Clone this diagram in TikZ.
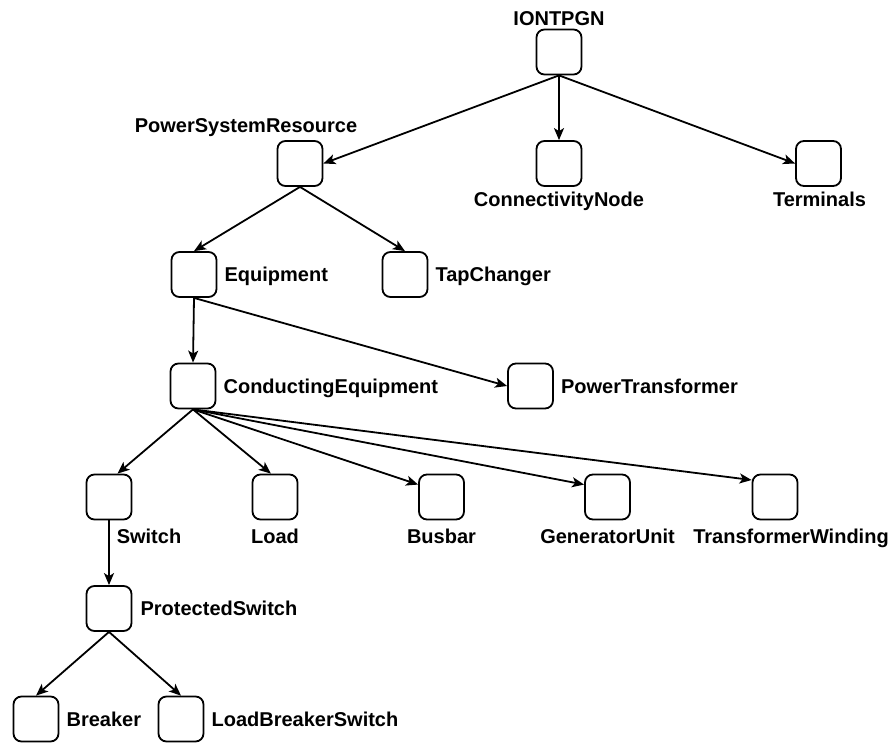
\documentclass[tikz,border=0pt]{standalone}
\usepackage{fontspec}
\setmainfont{Liberation Sans}
\usetikzlibrary{arrows.meta, positioning}

\begin{document}
\begin{tikzpicture}[
    x=1pt, y=-1pt,
    box/.style={draw, rounded corners=8pt, minimum size=45pt, inner sep=0pt, line width=1.8pt},
    lbl/.style={font=\fontsize{20}{24}\selectfont\bfseries, inner sep=0pt, text height=14.5pt, text depth=0pt},
    arrow/.style={-{Stealth[length=12pt, width=10pt, inset=3pt]}, line width=1.8pt}
]
    \useasboundingbox (0,0) rectangle (891,742);

    % Boxes
    \node[box] (iontpgn) at (559,52) {};
    \node[box] (psr) at (300,163.5) {};
    \node[box] (cnode) at (559,163.5) {};
    \node[box] (term) at (818.5,163.5) {};
    \node[box] (equip) at (194,274.5) {};
    \node[box] (tap) at (405,274.5) {};
    \node[box] (condeq) at (193,386) {};
    \node[box] (ptrans) at (530.5,386) {};
    \node[box] (switch) at (109,497) {};
    \node[box] (load) at (275,497) {};
    \node[box] (busbar) at (441.5,497) {};
    \node[box] (genunit) at (607.5,497) {};
    \node[box] (twind) at (775,497) {};
    \node[box] (pswitch) at (109,608.5) {};
    \node[box] (breaker) at (36,719) {};
    \node[box] (lbswitch) at (181,719) {};

    % Labels
    \node[lbl, above=3pt of iontpgn] (iontpgnlbl) {IONTPGN};
    \node[lbl, above=7pt of psr, xshift=-54pt] (psrlbl) {PowerSystemResource};
    \node[lbl, below=5pt of cnode] (cnodelbl) {ConnectivityNode};
    \node[lbl, below=5pt of term, xshift=1pt] (termlbl) {Terminals};
    \node[lbl, right=7pt of equip] (equiplbl) {Equipment};
    \node[lbl, right=7pt of tap] (taplbl) {TapChanger};
    \node[lbl, right=7pt of condeq] (condeqlbl) {ConductingEquipment};
    \node[lbl, right=7pt of ptrans] (ptranslbl) {PowerTransformer};
    \node[lbl, below=8pt of switch, xshift=40pt] (switchlbl) {Switch};
    \node[lbl, below=8pt of load] (loadlbl) {Load};
    \node[lbl, below=8pt of busbar] (busbarlbl) {Busbar};
    \node[lbl, below=8pt of genunit] (genunitlbl) {GeneratorUnit};
    \node[lbl, below=8pt of twind, xshift=16pt] (twindlbl) {TransformerWinding};
    \node[lbl, right=8pt of pswitch] (pswitchlbl) {ProtectedSwitch};
    \node[lbl, right=7pt of breaker] (breakerlbl) {Breaker};
    \node[lbl, right=7pt of lbswitch] (lbswitchlbl) {LoadBreakerSwitch};

    % Arrows
    \draw[arrow] (iontpgn.south) -- (psr.east);
    \draw[arrow] (iontpgn.south) -- (cnode.north);
    \draw[arrow] (iontpgn.south) -- (term.west);
    \draw[arrow] (psr.south) -- (equip.north);
    \draw[arrow] (psr.south) -- (tap.north);
    \draw[arrow] (equip.south) -- (condeq.north);
    \draw[arrow] (equip.south) -- (ptrans.west);
    \draw[arrow] (condeq.south) -- (switch.70);
    \draw[arrow] (condeq.south) -- (load.100);
    \draw[arrow] (condeq.south) -- (busbar.152);
    \draw[arrow] (condeq.south) -- (genunit.152);
    \draw[arrow] (condeq.south) -- (twind.144);
    \draw[arrow] (switch.south) -- (pswitch.north);
    \draw[arrow] (pswitch.south) -- (breaker.north);
    \draw[arrow] (pswitch.south) -- (lbswitch.north);
\end{tikzpicture}
\end{document}
